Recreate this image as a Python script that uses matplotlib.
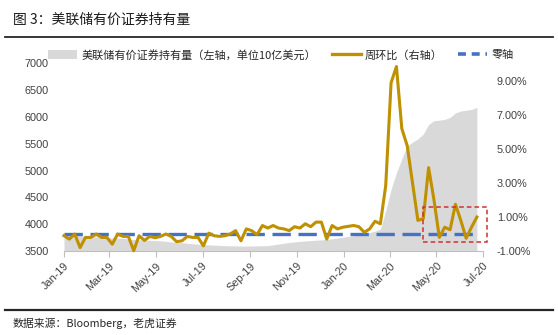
import matplotlib
matplotlib.use("Agg")
import matplotlib.pyplot as plt
import matplotlib.dates as mdates
from matplotlib.lines import Line2D
from matplotlib.patches import Patch, Rectangle
from matplotlib.ticker import FuncFormatter
import numpy as np
import pandas as pd

plt.rcParams['font.family'] = ['Noto Sans CJK SC', 'DejaVu Sans']

# weekly observations, Jan 2019 - Jun 2020
dates = pd.date_range("2019-01-01", periods=78, freq="7D")

# securities held outright, billions of USD (left axis)
holdings = [
    3800, 3795, 3790, 3785, 3775, 3770, 3765, 3760, 3750, 3745,
    3740, 3735, 3725, 3715, 3710, 3705, 3700, 3695, 3690, 3680,
    3670, 3660, 3655, 3645, 3635, 3628, 3622, 3615, 3610, 3605,
    3600, 3598, 3595, 3593, 3592, 3593, 3596, 3598, 3600, 3615,
    3630, 3645, 3658, 3670, 3680, 3688, 3695, 3702, 3708, 3715,
    3728, 3742, 3757, 3772, 3785, 3800, 3820, 3845, 3870, 3910,
    4250, 4650, 4960, 5220, 5460, 5530, 5590, 5680, 5860, 5930,
    5940, 5955, 5990, 6075, 6110, 6125, 6140, 6180,
]

# week-over-week change, % (right axis)
wow_pct = [
    -0.10, -0.30, 0.00, -0.80, -0.20, -0.20, 0.00, -0.20, -0.20, -0.60,
    0.00, -0.14, -0.14, -0.98, -0.10, -0.38, -0.14, -0.22, -0.14, 0.00,
    -0.14, -0.45, -0.40, -0.14, -0.20, -0.20, -0.70, 0.05, -0.10, -0.14,
    -0.10, 0.00, 0.20, -0.40, 0.30, 0.20, -0.04, 0.50, 0.35, 0.50,
    0.35, 0.30, 0.20, 0.43, 0.35, 0.60, 0.43, 0.70, 0.70, -0.30,
    0.50, 0.30, 0.40, 0.45, 0.50, 0.43, 0.10, 0.30, 0.75, 0.60,
    2.85, 8.90, 9.85, 6.20, 5.20, 3.00, 0.80, 0.90, 3.90, 2.00,
    -0.20, 0.40, 0.25, 1.75, 0.80, -0.25, 0.40, 1.00,
]
zero_line = [0.0] * len(dates)

# highlighted recent window
box_start, box_end = pd.Timestamp("2020-04-14"), pd.Timestamp("2020-07-06")
box_low, box_high = -0.45, 1.60

gold = "#BF9000"
blue = "#4472C4"
grey = "#D9D9D9"
tick_font = "Liberation Sans"

fig = plt.figure(figsize=(5.58, 3.35), dpi=100)
ax = fig.add_axes([0.1147, 0.2507, 0.7509, 0.5603])
ax2 = ax.twinx()

ax.fill_between(dates, 0, holdings, color=grey, lw=0, zorder=1)
ax.set_ylim(3500, 7000)
ax.set_yticks(np.arange(3500, 7001, 500))

ax2.plot(dates, zero_line, color=blue, lw=2.4, dashes=(5.5, 2.3), zorder=3)
ax2.plot(dates, wow_pct, color=gold, lw=2.2, solid_joinstyle="round",
         clip_on=False, zorder=4)
ax2.add_patch(Rectangle((mdates.date2num(box_start), box_low),
                        mdates.date2num(box_end) - mdates.date2num(box_start),
                        box_high - box_low, fill=False, edgecolor="#D0312D",
                        lw=1.1, ls=(0, (3, 2)), clip_on=False, zorder=5))
ax2.set_ylim(-1.0, 10.04)
ax2.set_yticks([-1, 1, 3, 5, 7, 9])
ax2.yaxis.set_major_formatter(FuncFormatter(lambda v, p: f"{v:.2f}%"))

ax.set_xlim(pd.Timestamp("2019-01-01"), pd.Timestamp("2020-07-01"))
ax.xaxis.set_major_locator(mdates.MonthLocator(bymonth=[1, 3, 5, 7, 9, 11]))
ax.xaxis.set_major_formatter(mdates.DateFormatter("%b-%y"))

for a in (ax, ax2):
    for s in a.spines.values():
        s.set_visible(False)
ax.spines["bottom"].set_visible(True)
ax.spines["bottom"].set_color("#BFBFBF")
ax.spines["bottom"].set_linewidth(0.8)

ax.tick_params(axis="x", length=4, color="#BFBFBF", pad=3, labelsize=7.8,
               labelcolor="#404040")
ax.tick_params(axis="y", length=0, pad=11, labelsize=7.8, labelcolor="#404040")
ax2.tick_params(axis="y", length=0, pad=10, labelsize=7.8, labelcolor="#404040")
for lbl in ax.get_xticklabels():
    lbl.set_rotation(45)
    lbl.set_ha("right")
    lbl.set_va("top")
    lbl.set_rotation_mode("anchor")
    lbl.set_family(tick_font)
for lbl in ax.get_yticklabels() + ax2.get_yticklabels():
    lbl.set_family(tick_font)

# legend
handles = [
    Patch(facecolor=grey, edgecolor="none"),
    Line2D([], [], color=gold, lw=2.4),
    Line2D([], [], color=blue, lw=2.6, dashes=(2.2, 1.6)),
]
labels = ["美联储有价证券持有量（左轴，单位10亿美元）", "周环比（右轴）", "零轴"]
fig.legend(handles, labels, loc="center left", bbox_to_anchor=(0.086, 1 - 55 / 335),
           ncol=3, frameon=False, fontsize=8, handlelength=2.6, handleheight=0.8,
           handletextpad=0.4, columnspacing=1.4, borderpad=0, borderaxespad=0,
           labelcolor="#262626")

# header and footer
fig.text(13 / 558, 1 - 19.5 / 335, "图 3：美联储有价证券持有量", fontsize=10,
         va="center", ha="left", color="#1a1a1a")
fig.add_artist(Line2D([5 / 558, 553 / 558], [1 - 37 / 335] * 2, color="#262626", lw=1.3))
fig.add_artist(Line2D([5 / 558, 553 / 558], [1 - 310 / 335] * 2, color="#262626", lw=1.6))
fig.text(13 / 558, 1 - 323 / 335, "数据来源：Bloomberg，老虎证券", fontsize=7.8,
         va="center", ha="left", color="#262626")

fig.savefig("out.png", dpi=100)
